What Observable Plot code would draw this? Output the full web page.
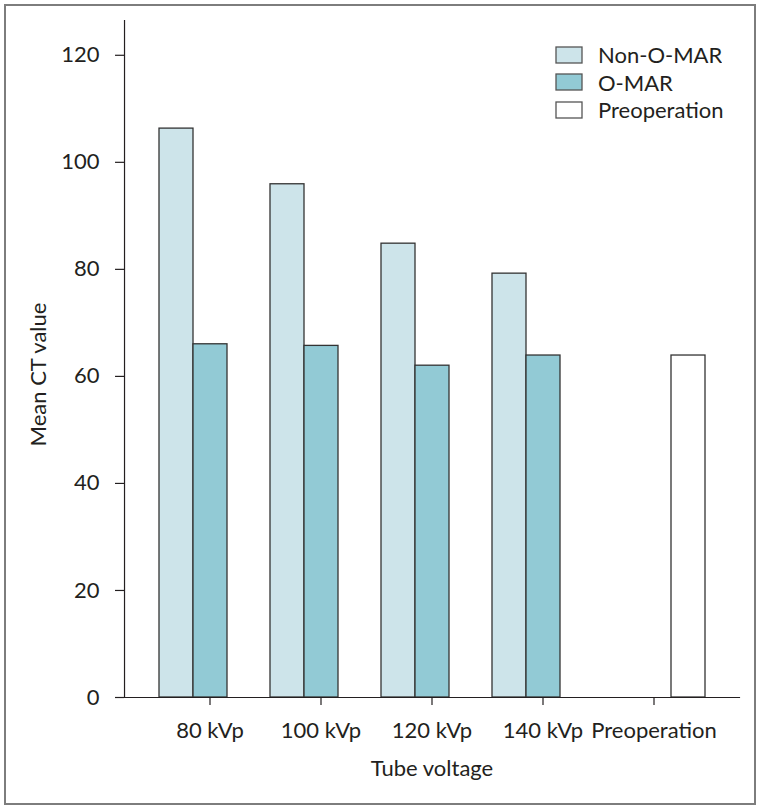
<!DOCTYPE html>
<html>
<head>
<meta charset="utf-8">
<script src="https://cdn.jsdelivr.net/npm/d3@7"></script>
<script src="https://cdn.jsdelivr.net/npm/@observablehq/plot@0.6"></script>
<style>
  html, body { margin: 0; padding: 0; background: #fff; }
  #wrap { position: relative; width: 761px; height: 810px; overflow: hidden; }
  #border { position: absolute; left: 4px; top: 4px; width: 748px; height: 797px; border: 2px solid #7d7d7d; pointer-events: none; }
  #chart { position: absolute; left: 0; top: 0; }
  #legend { position: absolute; left: 556px; top: 41px; }
  .lg-swatches { font-family: Lato, sans-serif !important; font-size: 22px !important; color: #231f20 !important; margin: 0 !important; min-height: 0 !important; }
  .lg-swatch { display: flex !important; align-items: center !important; height: 27.5px !important; line-height: 27.5px !important; padding: 0 !important; margin: 0 !important; }
  .lg-swatch svg { margin-right: 16px !important; overflow: visible !important; }
  .lg-swatch svg rect { stroke: #555; stroke-width: 1.3px; }
</style>
</head>
<body>
<div id="wrap">
  <div id="chart"></div>
  <div id="legend"></div>
  <div id="border"></div>
</div>
<script>
const categories = ["80 kVp", "100 kVp", "120 kVp", "140 kVp", "Preoperation"];
const series = ["Non-O-MAR", "O-MAR", "Preoperation"];
const colors = ["#cde4ea", "#92cad5", "#ffffff"];
const nonOMAR = [106.3, 95.9, 84.8, 79.2, null];
const oMAR = [66.0, 65.7, 62.0, 63.9, null];
const preop = [null, null, null, null, 63.9];
const yTicks = [0, 20, 40, 60, 80, 100, 120];
const yMax = 126.5;
const xTitle = "Tube voltage";
const yTitle = "Mean CT value";

const data = [];
categories.forEach((c, i) => {
  [[series[0], nonOMAR[i]], [series[1], oMAR[i]], [series[2], preop[i]]].forEach(([s, v]) => {
    if (v != null) data.push({cat: c, series: s, value: v});
  });
});

const W = 761, H = 810, mL = 122, mR = 20, mT = 20, mB = 113;
const fxPadIn = 0.0694, fxPadOut = 0.304;
const step = (W - mL - mR) / (categories.length - fxPadIn + 2 * fxPadOut);
const axisShift = step * fxPadOut; // distance from plot-area left to first facet

const font = "Lato, sans-serif";
const ink = "#231f20";
const chart = Plot.plot({
  width: W,
  height: H,
  marginLeft: mL,
  marginRight: mR,
  marginTop: mT,
  marginBottom: mB,
  style: {fontFamily: font, fontSize: "22px", color: ink, background: "transparent", overflow: "visible"},
  fx: {domain: categories, paddingInner: fxPadIn, paddingOuter: fxPadOut, axis: null, label: null},
  x: {domain: series, padding: 0, axis: null},
  y: {domain: [0, yMax], axis: null},
  color: {type: "ordinal", domain: series, range: colors},
  marks: [
    Plot.barY(data, {fx: "cat", x: "series", y: "value", fill: "series", stroke: "#333", strokeWidth: 1.3}),
    Plot.frame({anchor: "left", facet: "super", dx: -axisShift, stroke: ink, strokeWidth: 1.2}),
    Plot.frame({anchor: "bottom", facet: "super", insetLeft: -axisShift, insetRight: -axisShift, stroke: ink, strokeWidth: 1.2}),
    Plot.axisY({facetAnchor: "left", anchor: "left", dx: -axisShift, ticks: yTicks, tickSize: 9, tickPadding: 16, label: null, stroke: ink, strokeWidth: 1.2, fontSize: 22}),
    Plot.axisFx({anchor: "bottom", tickSize: 8, tickPadding: 17, label: null, stroke: ink, strokeWidth: 1.2, fontSize: 22}),
    Plot.text([xTitle], {facet: "super", frameAnchor: "bottom", textAnchor: "middle", lineAnchor: "middle", dy: 71, fontSize: 22, fill: ink}),
    Plot.text([yTitle], {facet: "super", frameAnchor: "left", textAnchor: "middle", lineAnchor: "middle", rotate: -90, dx: -axisShift - 86, dy: 15.5, fontSize: 22, fill: ink})
  ]
});
document.getElementById("chart").appendChild(chart);

const legend = Plot.legend({
  color: {type: "ordinal", domain: series, range: colors},
  legend: "swatches",
  columns: 1,
  swatchWidth: 26,
  swatchHeight: 16,
  className: "lg"
});
document.getElementById("legend").appendChild(legend);
</script>
</body>
</html>
